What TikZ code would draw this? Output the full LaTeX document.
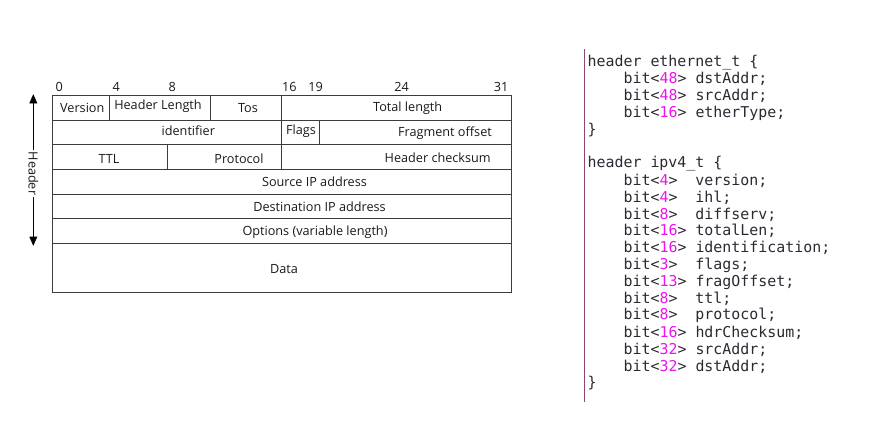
\documentclass[tikz,border=0pt]{standalone}
\usepackage{fontspec}
\setmainfont{Open Sans}
\newfontfamily\codefont{DejaVu Sans Mono}
\usepackage{tikz}

\definecolor{tablecol}{RGB}{60,60,60}
\definecolor{codecol}{RGB}{45,40,50}
\definecolor{numcol}{RGB}{235,20,235}
\definecolor{barcol}{RGB}{140,70,120}

\newcommand{\bitw}[1]{bit<\textcolor{numcol}{#1}>}

\tikzset{
  cell/.style={inner sep=0.75pt, text=black!90, font=\fontsize{9.5}{11}\selectfont},
  code/.style={anchor=west, inner sep=0pt, text=codecol, font=\codefont\fontsize{11.2}{13}\selectfont},
  grid/.style={draw=tablecol, line width=0.75}
}

\begin{document}
\begin{tikzpicture}[x=0.75pt,y=0.75pt,yscale=-1,xscale=1]
\useasboundingbox (0,0) rectangle (888,447);

%Shape: Rectangle [id:table] 
\draw [grid] (52.3,95.3) -- (511.3,95.3) -- (511.3,292.3) -- (52.3,292.3) -- cycle ;
%Straight Lines [id:rows] 
\draw [grid] (52.3,120.3) -- (511.3,120.3) ;
\draw [grid] (52.3,144.7) -- (511.3,144.7) ;
\draw [grid] (52.3,169.3) -- (511.3,169.3) ;
\draw [grid] (52.3,194) -- (511.3,194) ;
\draw [grid] (52.3,218.7) -- (511.3,218.7) ;
\draw [grid] (52.3,243.3) -- (511.3,243.3) ;
%Straight Lines [id:cols] 
\draw [grid] (109.7,95.3) -- (109.7,120.3) ;
\draw [grid] (210.3,95.3) -- (210.3,120.3) ;
\draw [grid] (281.7,95.3) -- (281.7,169.3) ;
\draw [grid] (319.3,120.3) -- (319.3,144.7) ;
\draw [grid] (167,144.7) -- (167,169.3) ;

% Text Node
\node [cell] (b0) at (59.3,87) {0};
\node [cell] (b4) at (116.3,87) {4};
\node [cell] (b8) at (172.3,87) {8};
\node [cell] (b16) at (289.3,87) {16};
\node [cell] (b19) at (315.7,87) {19};
\node [cell] (b24) at (401.7,87) {24};
\node [cell] (b31) at (501,87) {31};

% Text Node
\node [cell] (version) at (82.3,108) {Version};
\node [cell] (hlen) at (158,106) {Header Length};
\node [cell] (tos) at (248,108.5) {Tos};
\node [cell] (tlen) at (407.7,108.5) {Total length};
\node [cell] (ident) at (188.3,130.5) {identifier};
\node [cell] (flags) at (301,131) {Flags};
\node [cell] (fragoff) at (445,133) {Fragment offset};
\node [cell] (ttl) at (109,158.5) {TTL};
\node [cell] (proto) at (239,158.5) {Protocol};
\node [cell] (hcheck) at (437.7,158) {Header checksum};
\node [cell] (srcip) at (314.5,181.5) {Source IP address};
\node [cell] (dstip) at (319.5,207) {Destination IP address};
\node [cell] (options) at (315,232) {Options (variable length)};
\node [cell] (data) at (284,269) {Data};

%Straight Lines [id:header] 
\coordinate (hdrtop) at (33.3,95) ;
\coordinate (hdrbot) at (33.3,245) ;
\draw [line width=0.75] (hdrtop) -- (hdrbot) ;
\draw [shift={(hdrtop)}, rotate = 90] [fill=black, line width=0.5] (8,-3.5) -- (0,0) -- (8,3.5) -- cycle ;
\draw [shift={(hdrbot)}, rotate = 270] [fill=black, line width=0.5] (8,-3.5) -- (0,0) -- (8,3.5) -- cycle ;
% Text Node
\node [cell, fill=white, rotate=-90, inner sep=1pt] (hdr) at (33.3,173.5) {Header};

%Straight Lines [id:bar] 
\draw [draw=barcol, line width=1] (584.3,49) -- (584.3,402) ;

% Text Node
\node [code] (eth) at (587.3,62.3) {header ethernet\_t \{};
\node [code] (ethdst) at (623.3,79.2) {\bitw{48} dstAddr;};
\node [code] (ethsrc) at (623.3,96.1) {\bitw{48} srcAddr;};
\node [code] (ethtype) at (623.3,113) {\bitw{16} etherType;};
\node [code] (ethend) at (587.3,129.9) {\}};
\node [code] (ipv4) at (587.3,163.7) {header ipv4\_t \{};
\node [code] (ipver) at (623.3,180.6) {\bitw{4}~ version;};
\node [code] (ipihl) at (623.3,197.5) {\bitw{4}~ ihl;};
\node [code] (ipdiff) at (623.3,214.4) {\bitw{8}~ diffserv;};
\node [code] (iplen) at (623.3,231.3) {\bitw{16} totalLen;};
\node [code] (ipid) at (623.3,248.2) {\bitw{16} identification;};
\node [code] (ipflags) at (623.3,265.1) {\bitw{3}~ flags;};
\node [code] (ipfrag) at (623.3,282) {\bitw{13} fragOffset;};
\node [code] (ipttl) at (623.3,298.9) {\bitw{8}~ ttl;};
\node [code] (ipproto) at (623.3,315.8) {\bitw{8}~ protocol;};
\node [code] (ipcheck) at (623.3,332.7) {\bitw{16} hdrChecksum;};
\node [code] (ipsrc) at (623.3,349.6) {\bitw{32} srcAddr;};
\node [code] (ipdst) at (623.3,366.5) {\bitw{32} dstAddr;};
\node [code] (ipend) at (587.3,383.4) {\}};

\end{tikzpicture}
\end{document}
